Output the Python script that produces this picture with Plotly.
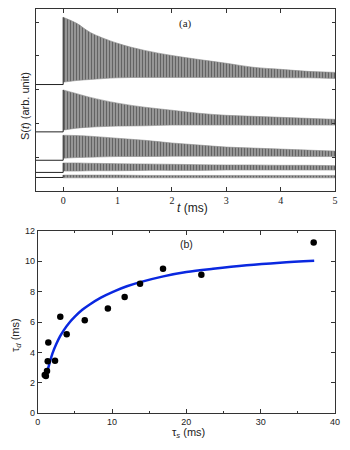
import plotly.graph_objects as go

# ---- panel (a): signal envelopes at these times (ms)
t_env = [0, 0.25, 0.5, 1, 1.5, 2, 2.5, 3, 3.5, 4, 4.5, 5]

baselines = [3.15, 1.75, 0.91, 0.55, 0.40]

upper1 = [5.14, 4.96, 4.69, 4.37, 4.16, 4.01, 3.89, 3.78, 3.66, 3.60, 3.54, 3.51]
lower1 = [3.22, 3.27, 3.30, 3.35, 3.36, 3.36, 3.36, 3.36, 3.36, 3.35, 3.35, 3.33]
upper2 = [2.99, 2.88, 2.77, 2.60, 2.48, 2.39, 2.30, 2.24, 2.21, 2.18, 2.15, 2.12]
lower2 = [1.80, 1.86, 1.89, 1.92, 1.93, 1.95, 1.95, 1.95, 1.95, 1.95, 1.95, 1.95]
upper3 = [1.65, 1.64, 1.62, 1.56, 1.50, 1.42, 1.36, 1.30, 1.27, 1.24, 1.21, 1.18]
lower3 = [0.97, 0.99, 1.00, 1.02, 1.02, 1.03, 1.03, 1.03, 1.03, 1.03, 1.02, 1.02]
upper4 = [0.83, 0.83, 0.82, 0.81, 0.80, 0.79, 0.78, 0.77, 0.77, 0.76, 0.76, 0.75]
lower4 = [0.59, 0.59, 0.60, 0.60, 0.61, 0.61, 0.61, 0.62, 0.62, 0.62, 0.62, 0.62]
upper5 = [0.47, 0.47, 0.47, 0.47, 0.46, 0.46, 0.46, 0.46, 0.46, 0.46, 0.46, 0.46]
lower5 = [0.39, 0.39, 0.39, 0.39, 0.39, 0.39, 0.39, 0.39, 0.39, 0.39, 0.39, 0.39]

uppers = [upper1, upper2, upper3, upper4, upper5]
lowers = [lower1, lower2, lower3, lower4, lower5]

x_ticks_a = [0, 1, 2, 3, 4, 5]

# ---- panel (b): decay time vs tau_s
tau_s = [0.95, 1.1, 1.25, 1.35, 1.43, 2.33, 3.04, 3.90, 6.33, 9.44, 11.7, 13.77, 16.86, 22.02, 37.13]
tau_d = [2.52, 2.45, 2.78, 3.42, 4.66, 3.46, 6.35, 5.19, 6.11, 6.89, 7.64, 8.52, 9.50, 9.10, 11.23]

fit_s = [1.35, 1.6, 2.0, 2.5, 3.0, 3.5, 4.25, 5.0, 6.0, 7.0, 8.5, 10.2, 12.0, 13.8, 16.9,
         20.0, 23.6, 28.1, 32.6, 37.2]
fit_d = [2.85, 3.3, 3.95, 4.55, 5.05, 5.45, 5.95, 6.35, 6.8, 7.15, 7.6, 8.0, 8.35, 8.62, 9.0,
         9.28, 9.5, 9.73, 9.9, 10.03]

SANS = "Liberation Sans, Arial, sans-serif"
SERIF = "Liberation Serif, Times New Roman, serif"
AXC = "#333333"

# the page has an 8px body margin, so the figure is a bit smaller than the window
W, H, OFF = 334, 434, 8


def px(x):
    return (x - OFF) / W


def py(y):
    return 1 - (y - OFF) / H


fig = go.Figure()

for base, up, lo in zip(baselines, uppers, lowers):
    fig.add_trace(go.Scatter(
        x=t_env, y=lo, mode="lines", line=dict(color="#8c8c8c", width=0.6, shape="spline"),
        xaxis="x", yaxis="y", hoverinfo="skip"))
    fig.add_trace(go.Scatter(
        x=t_env, y=up, mode="lines", line=dict(color="#8c8c8c", width=0.6, shape="spline"),
        fill="tonexty", fillcolor="#a0a0a0",
        fillpattern=dict(shape="|", size=3, solidity=0.45, fgcolor="#262626", bgcolor="#a0a0a0"),
        xaxis="x", yaxis="y", hoverinfo="skip"))
    # flat part before t = 0 and the jump at t = 0
    fig.add_trace(go.Scatter(
        x=[-0.5, 0, 0], y=[base, base, up[0]], mode="lines",
        line=dict(color="#222222", width=1), xaxis="x", yaxis="y", hoverinfo="skip"))

fig.add_trace(go.Scatter(
    x=fit_s, y=fit_d, mode="lines", line=dict(color="#0a28e0", width=2.5, shape="spline"),
    xaxis="x2", yaxis="y2"))
fig.add_trace(go.Scatter(
    x=tau_s, y=tau_d, mode="markers", marker=dict(color="black", size=6.5),
    xaxis="x2", yaxis="y2"))

axis_common = dict(showline=True, linecolor=AXC, linewidth=1, mirror="ticks",
                   ticks="inside", tickcolor=AXC, showgrid=False, zeroline=False,
                   automargin=False)


def label(text, x, y, font, size, angle=0):
    return dict(text=text, x=px(x), y=py(y), xref="paper", yref="paper",
                xanchor="center", yanchor="middle", textangle=angle, showarrow=False,
                font=dict(family=font, size=size, color="#222"))


fig.update_layout(
    width=W, height=H,
    margin=dict(l=0, r=0, t=0, b=0),
    paper_bgcolor="white", plot_bgcolor="white",
    showlegend=False,
    xaxis=dict(domain=[px(36), px(335)], anchor="y", range=[-0.5, 5],
               tickvals=x_ticks_a, ticklen=4,
               tickfont=dict(family=SERIF, size=10, color="#222"), **axis_common),
    yaxis=dict(domain=[py(191), py(8.5)], anchor="x", range=[0, 5.4],
               tickvals=[1, 2, 3, 4, 5], ticklen=3, showticklabels=False, **axis_common),
    xaxis2=dict(domain=[px(37.7), px(335)], anchor="y2", range=[0, 40],
                tickvals=[0, 10, 20, 30, 40], ticklen=4,
                minor=dict(tickvals=[5, 15, 25, 35], ticklen=2, ticks="inside", tickcolor=AXC),
                tickfont=dict(family=SANS, size=9, color="#222"), **axis_common),
    yaxis2=dict(domain=[py(413.3), py(230.7)], anchor="x2", range=[0, 12],
                tickvals=[0, 2, 4, 6, 8, 10, 12], ticklen=4,
                tickfont=dict(family=SANS, size=9, color="#222"), **axis_common),
    annotations=[
        label("(a)", 185, 23, SERIF, 11),
        label("<i>t</i> (ms)", 192, 208, SANS, 12),
        label("S(<i>t</i>) (arb. unit)", 25, 106, SANS, 11, -90),
        label("(b)", 187, 244, SANS, 10.5),
        label("τ<sub><i>s</i></sub> (ms)", 188, 433, SANS, 11),
        label("τ<sub><i>d</i></sub> (ms)", 16, 335, SANS, 11, -90),
    ],
)

fig.write_html("out.html")
